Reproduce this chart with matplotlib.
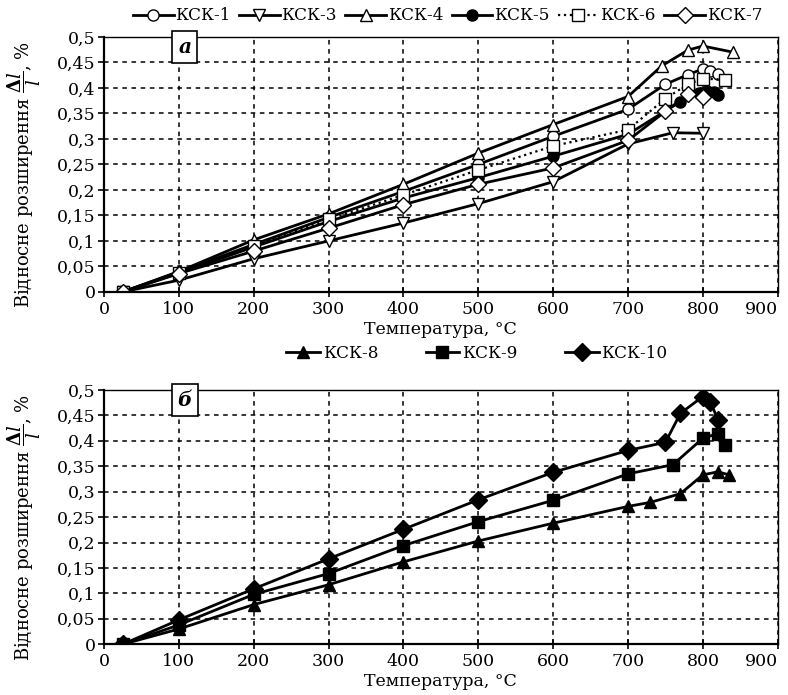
import numpy as np
import matplotlib
matplotlib.use('Agg')
import matplotlib.pyplot as plt
from matplotlib.ticker import FuncFormatter, MultipleLocator

plt.rcParams['font.family'] = ['DejaVu Serif']
plt.rcParams['mathtext.fontset'] = 'dejavuserif'

# панель а
t_ksk1 = [25, 100, 200, 300, 400, 500, 600, 700, 750, 780, 800, 810, 820]
v_ksk1 = [0, 0.039, 0.093, 0.146, 0.197, 0.25, 0.305, 0.358, 0.407, 0.426, 0.437, 0.433, 0.428]
t_ksk3 = [25, 100, 200, 300, 400, 500, 600, 700, 760, 800]
v_ksk3 = [0, 0.023, 0.065, 0.1, 0.135, 0.173, 0.216, 0.29, 0.312, 0.311]
t_ksk4 = [25, 100, 200, 300, 400, 500, 600, 700, 745, 780, 800, 840]
v_ksk4 = [0, 0.04, 0.102, 0.153, 0.211, 0.272, 0.328, 0.383, 0.443, 0.474, 0.482, 0.47]
t_ksk5 = [25, 100, 200, 300, 400, 500, 600, 700, 770, 795, 805, 815, 820]
v_ksk5 = [0, 0.037, 0.088, 0.138, 0.184, 0.224, 0.266, 0.309, 0.373, 0.389, 0.394, 0.392, 0.386]
t_ksk6 = [25, 100, 200, 300, 400, 500, 600, 700, 750, 780, 800, 830]
v_ksk6 = [0, 0.038, 0.09, 0.142, 0.19, 0.239, 0.286, 0.318, 0.379, 0.407, 0.418, 0.416]
t_ksk7 = [25, 100, 200, 300, 400, 500, 600, 700, 750, 780, 800]
v_ksk7 = [0, 0.036, 0.08, 0.125, 0.171, 0.211, 0.243, 0.297, 0.354, 0.387, 0.383]

# панель б
t_ksk8 = [25, 100, 200, 300, 400, 500, 600, 700, 730, 770, 800, 820, 835]
v_ksk8 = [0, 0.03, 0.078, 0.117, 0.162, 0.203, 0.238, 0.271, 0.279, 0.296, 0.333, 0.339, 0.333]
t_ksk9 = [25, 100, 200, 300, 400, 500, 600, 700, 760, 800, 820, 830]
v_ksk9 = [0, 0.038, 0.098, 0.139, 0.194, 0.241, 0.283, 0.335, 0.353, 0.405, 0.414, 0.391]
t_ksk10 = [25, 100, 200, 300, 400, 500, 600, 700, 750, 770, 800, 810, 820]
v_ksk10 = [0, 0.048, 0.109, 0.168, 0.226, 0.284, 0.338, 0.381, 0.397, 0.454, 0.487, 0.477, 0.441]

xticks = [0, 100, 200, 300, 400, 500, 600, 700, 800, 900]


def comma_fmt(v, pos):
    if abs(v) < 1e-9:
        return '0'
    s = ('%.2f' % v).rstrip('0').rstrip('.')
    return s.replace('.', ',')


def style_axes(ax, letter):
    ax.set_xlim(0, 900)
    ax.set_ylim(0, 0.5)
    ax.set_xticks(xticks)
    ax.yaxis.set_major_locator(MultipleLocator(0.05))
    ax.yaxis.set_major_formatter(FuncFormatter(comma_fmt))
    ax.grid(True, color='black', linestyle=(0, (3, 3)), linewidth=1.1)
    ax.tick_params(axis='x', direction='inout', length=7, width=1.2, labelsize=12.5, pad=3)
    ax.tick_params(axis='y', direction='out', length=4, width=1.2, labelsize=12.5, pad=2)
    # последняя подпись 900 не должна вылезать за край
    ax.get_xticklabels()[-1].set_horizontalalignment('right')
    for s in ['left', 'bottom']:
        ax.spines[s].set_linewidth(1.6)
    for s in ['top', 'right']:
        ax.spines[s].set_linewidth(1.0)
    ax.set_xlabel('Температура, °C', fontsize=12.5, labelpad=2)
    ax.set_ylabel(r'Відносне розширення $\mathbf{\dfrac{\Delta\mathit{l}}{\mathit{l}}}$, %',
                  fontsize=13, labelpad=3)
    ax.yaxis.set_label_coords(-0.09, 0.46)
    ax.text(108, 0.5, letter, fontsize=14.5, fontweight='bold', style='italic',
            ha='center', va='top',
            bbox=dict(boxstyle='square,pad=0.3', fc='white', ec='black', lw=1.2))


fig = plt.figure(figsize=(7.88, 6.95), dpi=100)
ax1 = fig.add_axes([0.132, 0.580, 0.855, 0.367])
ax2 = fig.add_axes([0.132, 0.073, 0.855, 0.366])

lw = 2.0
ms = 8
ax1.plot(t_ksk1, v_ksk1, '-', color='black', lw=lw, marker='o', ms=ms, mfc='white', mec='black', label='КСК-1')
ax1.plot(t_ksk3, v_ksk3, '-', color='black', lw=lw, marker='v', ms=ms + 1, mfc='white', mec='black', label='КСК-3')
ax1.plot(t_ksk4, v_ksk4, '-', color='black', lw=lw, marker='^', ms=ms + 1, mfc='white', mec='black', label='КСК-4')
ax1.plot(t_ksk5, v_ksk5, '-', color='black', lw=lw, marker='o', ms=ms, mfc='black', mec='black', label='КСК-5')
ax1.plot(t_ksk6, v_ksk6, ':', color='black', lw=1.6, marker='s', ms=ms, mfc='white', mec='black', label='КСК-6')
ax1.plot(t_ksk7, v_ksk7, '-', color='black', lw=lw, marker='D', ms=ms, mfc='white', mec='black', label='КСК-7')
style_axes(ax1, 'а')

ax2.plot(t_ksk8, v_ksk8, '-', color='black', lw=lw, marker='^', ms=ms + 1, mfc='black', mec='black', label='КСК-8')
ax2.plot(t_ksk9, v_ksk9, '-', color='black', lw=lw, marker='s', ms=ms, mfc='black', mec='black', label='КСК-9')
ax2.plot(t_ksk10, v_ksk10, '-', color='black', lw=lw, marker='D', ms=ms + 1, mfc='black', mec='black', label='КСК-10')
style_axes(ax2, 'б')

h1, l1 = ax1.get_legend_handles_labels()
fig.legend(h1, l1, loc='center', bbox_to_anchor=(0.568, 0.977), ncol=6, frameon=False,
           fontsize=12.2, handlelength=2.4, handletextpad=0.1, columnspacing=0.5, borderaxespad=0)
h2, l2 = ax2.get_legend_handles_labels()
fig.legend(h2, l2, loc='center', bbox_to_anchor=(0.605, 0.492), ncol=3, frameon=False,
           fontsize=12.2, handlelength=2.0, handletextpad=0.15, columnspacing=2.8, borderaxespad=0)

fig.savefig('out.png', dpi=100)
